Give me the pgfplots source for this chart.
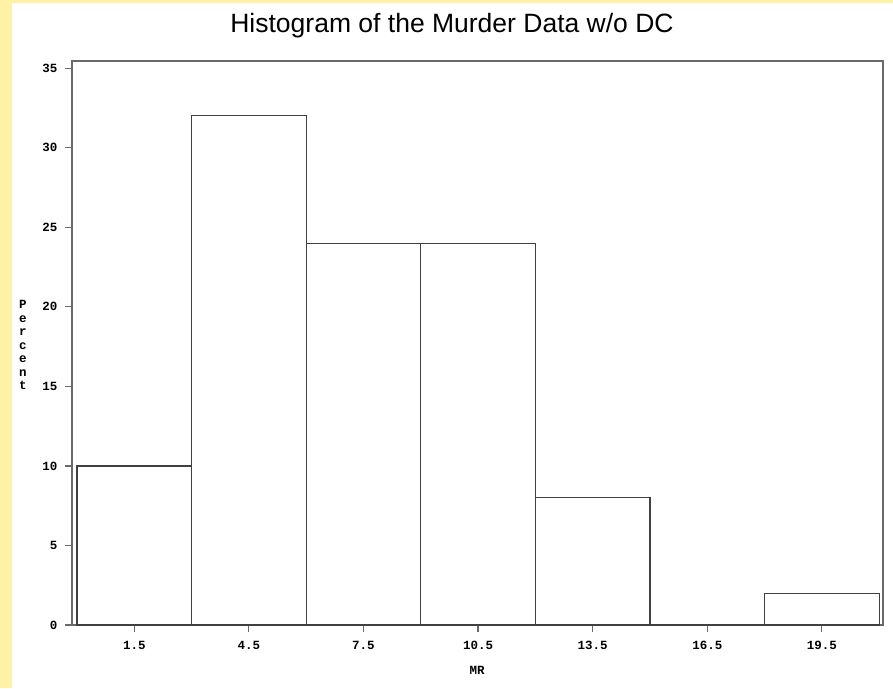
\documentclass[border=0pt]{standalone}
\usepackage{fontspec}
\setmainfont{Liberation Sans}
\newfontfamily\tickfont{Liberation Mono}
\usepackage{pgfplots}
\pgfplotsset{compat=1.18}
\definecolor{bgyellow}{RGB}{255,242,166}
\definecolor{framegray}{RGB}{105,105,105}
\newcommand{\tf}{\tickfont\bfseries\fontsize{12.5}{13.5}\selectfont}
\begin{document}
\begin{tikzpicture}[x=1pt,y=1pt]
\fill[bgyellow] (0,0) rectangle (893,688);
\fill[white] (12,0) rectangle (893,685);
\begin{axis}[
  at={(72pt,63pt)}, anchor=south west,
  scale only axis, width=811pt, height=564pt,
  xmin=-0.13, xmax=21.1, ymin=0, ymax=35.45,
  axis line style={framegray, line width=1.5pt},
  xtick={1.5,4.5,7.5,10.5,13.5,16.5,19.5}, ytick={0,5,...,35},
  tick align=outside, major tick length=7pt,
  xtick pos=bottom, ytick pos=left,
  tick style={framegray, line width=1.2pt},
  ticklabel style={font=\tf},
  /pgf/number format/assume math mode=true,
  yticklabel style={xshift=-4pt},
  xticklabel style={yshift=-6pt},
]
\addplot[ybar interval, draw=black!75, line width=1.2pt, fill=none] coordinates {(0,10)(3,32)(6,24)(9,24)(12,8)(15,0)(18,2)(21,2)};
\end{axis}
\node[font=\fontsize{26.5}{30}\selectfont, anchor=base] at (452,655) {Histogram of the Murder Data w/o DC};
\node[font=\tf, align=center] at (23,343) {P\\e\\r\\c\\e\\n\\t};
\node[font=\tf] at (477,18) {MR};
\pgfresetboundingbox
\useasboundingbox (0,0) rectangle (893,688);
\end{tikzpicture}
\end{document}
